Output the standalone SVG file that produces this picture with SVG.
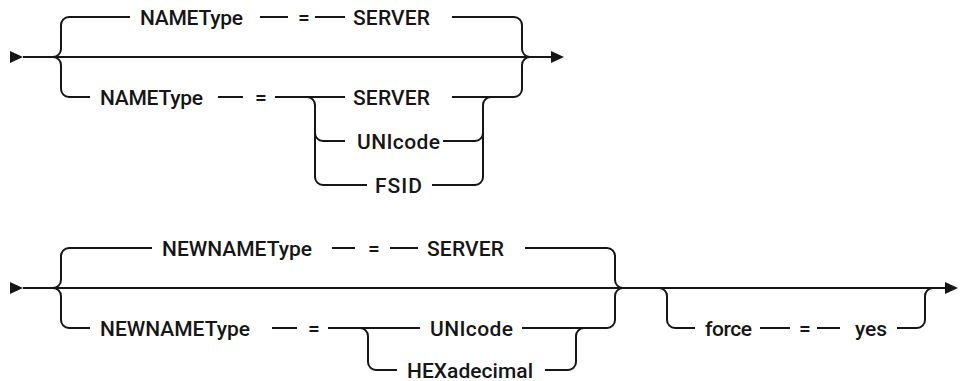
<svg xmlns="http://www.w3.org/2000/svg" width="960" height="381" viewBox="0 0 960 381">
<style>
.c{fill:none;stroke:#161616;stroke-width:2}
.a{fill:#161616}
text{font-family:Roboto,"Liberation Sans",Arial,sans-serif;font-size:21px;font-weight:500;fill:#161616}
.m{text-anchor:middle}
</style>
<rect width="960" height="381" fill="#fff"/>
<g id="connectors">
<path class="c" d="M23,57 H552"/>
<path class="c" d="M53,57 A8,8 0 0 0 61,49 V25 A8,8 0 0 1 69,17 H130"/>
<path class="c" d="M53,57 A8,8 0 0 1 61,65 V89 A8,8 0 0 0 69,97 H90"/>
<path class="c" d="M514,17 A8,8 0 0 1 522,25 V49 A8,8 0 0 0 530,57"/>
<path class="c" d="M514,97 A8,8 0 0 0 522,89 V65 A8,8 0 0 1 530,57"/>
<path class="c" d="M260,17 H288 M315,17 H345 M452,17 H514"/>
<path class="c" d="M218,97 H243 M275,97 H345 M452,97 H514"/>
<path class="c" d="M307,97 A8,8 0 0 1 315,105 V177 A8,8 0 0 0 323,185 H367"/>
<path class="c" d="M315,133 A8,8 0 0 0 323,141 H345"/>
<path class="c" d="M432,185 H475 A8,8 0 0 0 483,177 V105 A8,8 0 0 1 491,97"/>
<path class="c" d="M443,141 H475 A8,8 0 0 0 483,133"/>
<polygon class="a" points="10,51 23,57 10,63"/>
<polygon class="a" points="551,51 564,57 551,63"/>
<path class="c" d="M23,288 H946"/>
<path class="c" d="M53,288 A8,8 0 0 0 61,280 V256 A8,8 0 0 1 69,248 H152"/>
<path class="c" d="M53,288 A8,8 0 0 1 61,296 V320 A8,8 0 0 0 69,328 H90"/>
<path class="c" d="M607,248 A8,8 0 0 1 615,256 V280 A8,8 0 0 0 623,288"/>
<path class="c" d="M607,328 A8,8 0 0 0 615,320 V296 A8,8 0 0 1 623,288"/>
<path class="c" d="M332,248 H355 M390,248 H418 M525,248 H607"/>
<path class="c" d="M272,328 H297 M328,328 H420 M522,328 H607"/>
<path class="c" d="M360,328 A8,8 0 0 1 368,336 V362 A8,8 0 0 0 376,370 H397"/>
<path class="c" d="M545,370 H568 A8,8 0 0 0 576,362 V336 A8,8 0 0 1 584,328"/>
<path class="c" d="M659,288 A8,8 0 0 1 667,296 V320 A8,8 0 0 0 675,328 H695"/>
<path class="c" d="M760,328 H790 M817,328 H840"/>
<path class="c" d="M897,328 H917 A8,8 0 0 0 925,320 V296 A8,8 0 0 1 933,288"/>
<polygon class="a" points="10,282 23,288 10,294"/>
<polygon class="a" points="945,282 958,288 945,294"/>
</g>
<g id="n1"><text x="140" y="24.5" textLength="103">NAMEType</text></g>
<g id="n2"><text class="m" x="304" y="24.5">=</text></g>
<g id="n3"><text x="353" y="24.5" textLength="77">SERVER</text></g>
<g id="n4"><text x="100" y="104.5" textLength="103">NAMEType</text></g>
<g id="n5"><text class="m" x="261" y="104.5">=</text></g>
<g id="n6"><text x="353" y="104.5" textLength="77">SERVER</text></g>
<g id="n7"><text x="357" y="148.5" textLength="83">UNIcode</text></g>
<g id="n8"><text x="375" y="192.5" textLength="47">FSID</text></g>
<g id="n9"><text x="162" y="255.5" textLength="150">NEWNAMEType</text></g>
<g id="n10"><text class="m" x="374" y="255.5">=</text></g>
<g id="n11"><text x="427" y="255.5" textLength="77">SERVER</text></g>
<g id="n12"><text x="100" y="335.5" textLength="150">NEWNAMEType</text></g>
<g id="n13"><text class="m" x="314" y="335.5">=</text></g>
<g id="n14"><text x="430" y="335.5" textLength="83">UNIcode</text></g>
<g id="n15"><text x="407" y="377.5" textLength="126">HEXadecimal</text></g>
<g id="n16"><text x="705" y="335.5" textLength="47">force</text></g>
<g id="n17"><text class="m" x="805" y="335.5">=</text></g>
<g id="n18"><text x="855" y="335.5" textLength="32">yes</text></g>
</svg>
